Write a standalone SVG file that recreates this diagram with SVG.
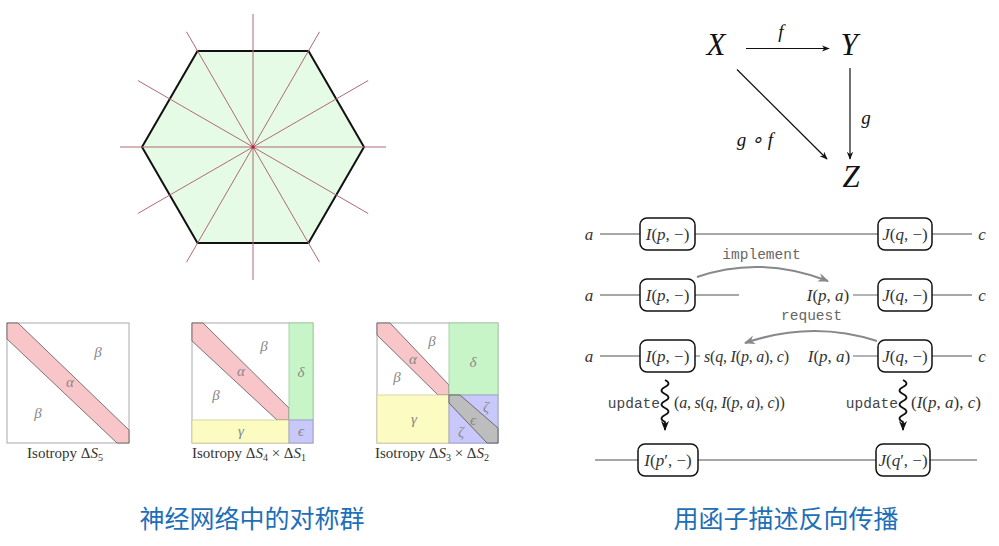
<svg xmlns="http://www.w3.org/2000/svg" width="999" height="546" viewBox="0 0 999 546">
<style>
.sym{stroke:#b06a74;stroke-width:1;fill:none}
.sq{stroke:#aaa;stroke-width:1;fill:#fff}
.band{stroke:#444;stroke-width:0.7}
.lbl{font-family:"Liberation Serif",serif;font-style:italic;font-size:15px;fill:#888;text-anchor:middle}
.cap{font-family:"Liberation Serif",serif;font-size:15px;fill:#333;text-anchor:middle}
.cd{font-family:"Liberation Serif",serif;font-style:italic;fill:#111;text-anchor:middle}
.wire{stroke:#8a8a8a;stroke-width:1.3;fill:none}
.box{fill:#fff;stroke:#111;stroke-width:1.5}
.m{font-family:"Liberation Serif",serif;font-size:17px;fill:#333}
.sm{font-size:16px;letter-spacing:-0.2px}
.c{text-anchor:middle}
.s{text-anchor:start}
.i{font-style:italic}
.tt{font-family:"Liberation Mono","DejaVu Sans Mono",monospace;font-size:14.5px;fill:#444}
.g{fill:#666}
.zh{font-family:"Noto Sans CJK SC",sans-serif;font-size:25px;fill:#1e6fb8;text-anchor:middle}
</style>
<defs>
<marker id="ab" viewBox="0 0 10 10" refX="9" refY="5" markerWidth="8" markerHeight="8" orient="auto" markerUnits="userSpaceOnUse">
<path d="M0,1 L10,5 L0,9 L3,5 Z" fill="#111"/>
</marker>
<marker id="ag" viewBox="0 0 10 10" refX="9" refY="5" markerWidth="11" markerHeight="11" orient="auto" markerUnits="userSpaceOnUse">
<path d="M0,1 L10,5 L0,9 L3,5 Z" fill="#888"/>
</marker>
<marker id="aw" viewBox="0 0 10 10" refX="9" refY="5" markerWidth="10" markerHeight="10" orient="auto" markerUnits="userSpaceOnUse">
<path d="M0,1 L10,5 L0,9 L3,5 Z" fill="#111"/>
</marker>
</defs>
<rect width="999" height="546" fill="#fff"/>

<!-- Hexagon -->
<g id="hexagon">
<polygon points="142,147 197.5,51 308.5,51 364,147 308.5,243 197.5,243" fill="#e6fbe6" stroke="#111" stroke-width="2"/>
<line class="sym" x1="120" y1="147" x2="386" y2="147"/>
<line class="sym" x1="253" y1="14" x2="253" y2="280"/>
<line class="sym" x1="137.8" y1="80.5" x2="368.2" y2="213.5"/>
<line class="sym" x1="137.8" y1="213.5" x2="368.2" y2="80.5"/>
<line class="sym" x1="186.5" y1="31.8" x2="319.5" y2="262.2"/>
<line class="sym" x1="186.5" y1="262.2" x2="319.5" y2="31.8"/>
<circle cx="253" cy="147" r="1.8" fill="#c02030"/>
</g>

<!-- Square 1 -->
<g id="iso5">
<rect class="sq" x="7" y="323" width="122" height="120"/>
<polygon class="band" fill="#f8c6c8" points="7,323 18,323 129,430 129,443 117,443 7,339"/>
<text class="lbl" x="70" y="387">α</text>
<text class="lbl" x="98" y="357">β</text>
<text class="lbl" x="38" y="418">β</text>
<text class="cap" x="65" y="458">Isotropy Δ<tspan class="i">S</tspan><tspan font-size="10" dy="3">5</tspan></text>
</g>

<!-- Square 2 -->
<g id="iso41">
<rect class="sq" x="192" y="323" width="121" height="120"/>
<polygon class="band" fill="#f8c6c8" points="192,323 203,323 289,408 289,420 277,420 192,341"/>
<rect x="289" y="323" width="24" height="97" fill="#c8f5c8" stroke="#9c9" stroke-width="0.8"/>
<rect x="192" y="420" width="97" height="23" fill="#fbfbc2" stroke="#cc9" stroke-width="0.8"/>
<rect x="289" y="420" width="24" height="23" fill="#c8c8fa" stroke="#99c" stroke-width="0.8"/>
<text class="lbl" x="264" y="351">β</text>
<text class="lbl" x="241" y="376">α</text>
<text class="lbl" x="216" y="400">β</text>
<text class="lbl" x="301" y="377">δ</text>
<text class="lbl" x="241" y="436">γ</text>
<text class="lbl" x="301" y="436">ϵ</text>
<text class="cap" x="249" y="458">Isotropy Δ<tspan class="i">S</tspan><tspan font-size="10" dy="3">4</tspan><tspan dy="-3"> × Δ</tspan><tspan class="i">S</tspan><tspan font-size="10" dy="3">1</tspan></text>
</g>

<!-- Square 3 -->
<g id="iso32">
<rect class="sq" x="377" y="323" width="121" height="120"/>
<polygon class="band" fill="#f8c6c8" points="377,323 390,323 449,385 449,395 438,395 377,335"/>
<rect x="449" y="323" width="49" height="72" fill="#c8f5c8" stroke="#9c9" stroke-width="0.8"/>
<rect x="377" y="395" width="72" height="48" fill="#fbfbc2" stroke="#cc9" stroke-width="0.8"/>
<rect x="449" y="395" width="49" height="48" fill="#c8c8fa" stroke="#99c" stroke-width="0.8"/>
<polygon class="band" fill="#bdbdbd" points="449,395 460,395 498,428 498,443 487,443 449,403"/>
<text class="lbl" x="432" y="346">β</text>
<text class="lbl" x="413" y="364">α</text>
<text class="lbl" x="397" y="382">β</text>
<text class="lbl" x="473" y="367">δ</text>
<text class="lbl" x="414" y="424">γ</text>
<text class="lbl" x="486" y="412">ζ</text>
<text class="lbl" x="473" y="425">ϵ</text>
<text class="lbl" x="461" y="437">ζ</text>
<text class="cap" x="432" y="458">Isotropy Δ<tspan class="i">S</tspan><tspan font-size="10" dy="3">3</tspan><tspan dy="-3"> × Δ</tspan><tspan class="i">S</tspan><tspan font-size="10" dy="3">2</tspan></text>
</g>

<!-- Commutative diagram -->
<g id="node-X"><text class="cd" x="716" y="55" font-size="31">X</text></g>
<g id="node-Y"><text class="cd" x="849" y="55" font-size="31">Y</text></g>
<g id="node-Z"><text class="cd" x="851" y="187" font-size="31">Z</text></g>
<g id="cd-arrows" stroke="#111" stroke-width="1.2" fill="none">
<line x1="746" y1="48.5" x2="829" y2="48.5" marker-end="url(#ab)"/>
<line x1="850" y1="68" x2="850" y2="159" marker-end="url(#ab)"/>
<line x1="737" y1="69.5" x2="827" y2="159" marker-end="url(#ab)"/>
</g>
<g id="cd-labels">
<text class="cd" x="781" y="38" font-size="19">f</text>
<text class="cd" x="866" y="124" font-size="19">g</text>
<text class="cd" x="755" y="146" font-size="19">g ∘ f</text>
</g>

<!-- String diagram: wires -->
<g id="wires">
<line class="wire" x1="600" y1="234" x2="640" y2="234"/>
<line class="wire" x1="695" y1="234" x2="878" y2="234"/>
<line class="wire" x1="932" y1="234" x2="972" y2="234"/>
<line class="wire" x1="600" y1="295" x2="640" y2="295"/>
<line class="wire" x1="695" y1="295" x2="739" y2="295"/>
<line class="wire" x1="853" y1="295" x2="878" y2="295"/>
<line class="wire" x1="932" y1="295" x2="972" y2="295"/>
<line class="wire" x1="600" y1="356" x2="640" y2="356"/>
<line class="wire" x1="695" y1="356" x2="700" y2="356"/>
<line class="wire" x1="853" y1="356" x2="878" y2="356"/>
<line class="wire" x1="932" y1="356" x2="972" y2="356"/>
<line class="wire" x1="595" y1="460" x2="638" y2="460"/>
<line class="wire" x1="698" y1="460" x2="876" y2="460"/>
<line class="wire" x1="930" y1="460" x2="977" y2="460"/>
</g>

<!-- Curved / squiggly arrows -->
<g id="process-arrows">
<path d="M697,277 Q760,255 828,281" stroke="#888" stroke-width="2" fill="none" marker-end="url(#ag)"/>
<path d="M877,341 Q812,320 745,343" stroke="#888" stroke-width="2" fill="none" marker-end="url(#ag)"/>
<path d="M665,380 q7,3.5 0,7 t0,7 t0,7 t0,7 t0,7 t0,7 l0,8" stroke="#111" stroke-width="1.8" fill="none" marker-end="url(#aw)"/>
<path d="M903,380 q7,3.5 0,7 t0,7 t0,7 t0,7 t0,7 t0,7 l0,8" stroke="#111" stroke-width="1.8" fill="none" marker-end="url(#aw)"/>
</g>

<!-- Boxes -->
<g id="box-I1"><rect class="box" x="640" y="218" width="55" height="32" rx="7"/><text class="m c" x="667.5" y="240"><tspan class="i">I</tspan>(<tspan class="i">p</tspan>, −)</text></g>
<g id="box-J1"><rect class="box" x="878" y="218" width="54" height="32" rx="7"/><text class="m c" x="905" y="240"><tspan class="i">J</tspan>(<tspan class="i">q</tspan>, −)</text></g>
<g id="box-I2"><rect class="box" x="640" y="279" width="55" height="32" rx="7"/><text class="m c" x="667.5" y="301"><tspan class="i">I</tspan>(<tspan class="i">p</tspan>, −)</text></g>
<g id="box-J2"><rect class="box" x="878" y="279" width="54" height="32" rx="7"/><text class="m c" x="905" y="301"><tspan class="i">J</tspan>(<tspan class="i">q</tspan>, −)</text></g>
<g id="box-I3"><rect class="box" x="640" y="340" width="55" height="32" rx="7"/><text class="m c" x="667.5" y="362"><tspan class="i">I</tspan>(<tspan class="i">p</tspan>, −)</text></g>
<g id="box-J3"><rect class="box" x="878" y="340" width="54" height="32" rx="7"/><text class="m c" x="905" y="362"><tspan class="i">J</tspan>(<tspan class="i">q</tspan>, −)</text></g>
<g id="box-I4"><rect class="box" x="638" y="444" width="60" height="32" rx="7"/><text class="m c" x="668" y="466"><tspan class="i">I</tspan>(<tspan class="i">p</tspan>′, −)</text></g>
<g id="box-J4"><rect class="box" x="876" y="444" width="54" height="32" rx="7"/><text class="m c" x="903" y="466"><tspan class="i">J</tspan>(<tspan class="i">q</tspan>′, −)</text></g>

<!-- Wire labels -->
<g id="wire-labels">
<text class="m c i" x="589" y="240">a</text>
<text class="m c i" x="982" y="240">c</text>
<text class="m c i" x="589" y="301">a</text>
<text class="m c i" x="982" y="301">c</text>
<text class="m c i" x="589" y="362">a</text>
<text class="m c i" x="982" y="362">c</text>
<text class="m c" x="828" y="301"><tspan class="i">I</tspan>(<tspan class="i">p</tspan>, <tspan class="i">a</tspan>)</text>
<text class="m c" x="829" y="362"><tspan class="i">I</tspan>(<tspan class="i">p</tspan>, <tspan class="i">a</tspan>)</text>
<text class="m sm s" x="704" y="362"><tspan class="i">s</tspan>(<tspan class="i">q</tspan>, <tspan class="i">I</tspan>(<tspan class="i">p</tspan>, <tspan class="i">a</tspan>), <tspan class="i">c</tspan>)</text>
<text class="tt g" x="761.5" y="259" text-anchor="middle">implement</text>
<text class="tt g" x="811.5" y="320" text-anchor="middle">request</text>
<text class="tt" x="660" y="408" text-anchor="end">update</text>
<text class="m sm s" x="674" y="408">(<tspan class="i">a</tspan>, <tspan class="i">s</tspan>(<tspan class="i">q</tspan>, <tspan class="i">I</tspan>(<tspan class="i">p</tspan>, <tspan class="i">a</tspan>), <tspan class="i">c</tspan>))</text>
<text class="tt" x="898" y="408" text-anchor="end">update</text>
<text class="m s" x="911" y="408">(<tspan class="i">I</tspan>(<tspan class="i">p</tspan>, <tspan class="i">a</tspan>), <tspan class="i">c</tspan>)</text>
</g>

<!-- Captions -->
<g id="captions">
<text class="zh" x="252" y="528">神经网络中的对称群</text>
<text class="zh" x="786" y="528">用函子描述反向传播</text>
</g>
</svg>
